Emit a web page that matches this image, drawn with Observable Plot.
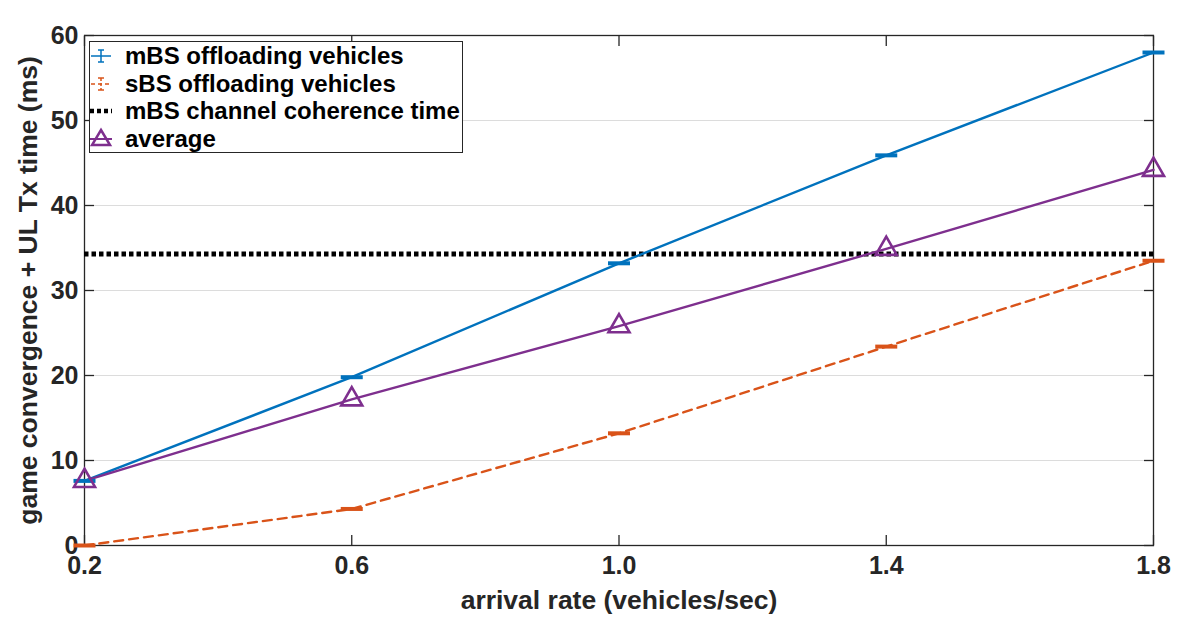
<!DOCTYPE html>
<html>
<head>
<meta charset="utf-8">
<script src="https://cdn.jsdelivr.net/npm/d3@7"></script>
<script src="https://cdn.jsdelivr.net/npm/@observablehq/plot@0.6"></script>
<style>
  html, body { margin: 0; padding: 0; background: #fff; }
  #wrap { position: relative; width: 1197px; height: 640px; font-family: "Liberation Sans", Arial, sans-serif; }
  #legend { position: absolute; left: 89px; top: 41px; width: 374px; height: 112px; border: 1.3px solid #262626; background: #fff; box-sizing: border-box; }
  .entry { position: absolute; left: 0; height: 28px; display: flex; align-items: center; }
  .entry span { position: absolute; left: 35px; font-size: 24px; font-weight: bold; color: #000; white-space: nowrap; line-height: 28px; top: 0; }
</style>
</head>
<body>
<div id="wrap"></div>
<script>
const rates = [0.2, 0.6, 1.0, 1.4, 1.8];
const mbsTime = [7.6, 19.8, 33.2, 45.9, 58.0];
const sbsTime = [0.0, 4.3, 13.2, 23.4, 33.5];
const avgTime = [7.6, 17.2, 25.8, 34.9, 44.2];
const coherenceTime = 34.3;
const xTicks = [0.2, 0.6, 1.0, 1.4, 1.8];
const yTicks = [0, 10, 20, 30, 40, 50, 60];
const seriesNames = ["mBS offloading vehicles", "sBS offloading vehicles", "mBS channel coherence time", "average"];
const colors = {mbs: "#0072BD", sbs: "#D95319", avg: "#7E2F8E"};

const mbsData = rates.map((x, i) => ({x, y: mbsTime[i]}));
const sbsData = rates.map((x, i) => ({x, y: sbsTime[i]}));
const avgData = rates.map((x, i) => ({x, y: avgTime[i]}));

const capSymbol = {
  draw(ctx, size) { ctx.moveTo(-11, 0); ctx.lineTo(11, 0); }
};

const fontFam = '"Liberation Sans", Arial, sans-serif';
const noText = () => "";

const chart = Plot.plot({
  width: 1197,
  height: 640,
  marginLeft: 84,
  marginRight: 44,
  marginTop: 35,
  marginBottom: 95,
  style: {fontFamily: fontFam, fontSize: "25px", fontWeight: "bold", color: "#262626", background: "#fff"},
  x: {domain: [0.2, 1.8]},
  y: {domain: [0, 60]},
  marks: [
    Plot.gridY(yTicks.slice(1, -1), {stroke: "#dcdcdc", strokeOpacity: 1, strokeWidth: 1}),
    Plot.frame({stroke: "#262626", strokeWidth: 1.3}),
    Plot.axisX(xTicks, {anchor: "bottom", tickSize: -10, tickPadding: 21, tickFormat: d3.format(".1f"), stroke: "#262626", strokeWidth: 1.3,
      fontSize: 25, fontWeight: "bold", label: null}),
    Plot.axisX({anchor: "bottom", label: "arrival rate (vehicles/sec)", labelAnchor: "center", labelArrow: "none", labelOffset: 63,
      ticks: [], fontSize: 26.5, fontWeight: "bold"}),
    Plot.axisX(xTicks, {anchor: "top", tickSize: -10, tickFormat: noText, label: null, stroke: "#262626", strokeWidth: 1.3}),
    Plot.axisY(yTicks, {anchor: "left", tickSize: -10, tickPadding: 16, stroke: "#262626", strokeWidth: 1.3,
      fontSize: 25, fontWeight: "bold", label: null}),
    Plot.axisY({anchor: "left", label: "game convergence + UL Tx time (ms)", labelAnchor: "center", labelArrow: "none", labelOffset: 66,
      ticks: [], fontSize: 26.5, fontWeight: "bold"}),
    Plot.axisY(yTicks, {anchor: "right", tickSize: -10, tickFormat: noText, label: null, stroke: "#262626", strokeWidth: 1.3}),
    Plot.ruleY([coherenceTime], {stroke: "#000", strokeWidth: 5, strokeDasharray: "4.5,3"}),
    Plot.line(sbsData, {x: "x", y: "y", stroke: colors.sbs, strokeWidth: 2.4, strokeDasharray: "9,6"}),
    Plot.line(mbsData, {x: "x", y: "y", stroke: colors.mbs, strokeWidth: 2.4}),
    Plot.line(avgData, {x: "x", y: "y", stroke: colors.avg, strokeWidth: 2.4}),
    Plot.dot(mbsData, {x: "x", y: "y", symbol: capSymbol, r: 5, stroke: colors.mbs, strokeWidth: 4, fill: "none"}),
    Plot.dot(sbsData, {x: "x", y: "y", symbol: capSymbol, r: 5, stroke: colors.sbs, strokeWidth: 4, fill: "none"}),
    Plot.dot(avgData, {x: "x", y: "y", symbol: "triangle", r: 7.8, stroke: colors.avg, strokeWidth: 2.6, fill: "none"})
  ]
});

const wrap = document.getElementById("wrap");
wrap.appendChild(chart);

const legend = document.createElement("div");
legend.id = "legend";
const swatches = [
  `<svg width="34" height="28"><line x1="1" y1="14" x2="21" y2="14" stroke="${colors.mbs}" stroke-width="1.5"/><line x1="11" y1="8" x2="11" y2="20" stroke="${colors.mbs}" stroke-width="1.5"/><line x1="8" y1="8" x2="14" y2="8" stroke="${colors.mbs}" stroke-width="1.5"/><line x1="8" y1="20" x2="14" y2="20" stroke="${colors.mbs}" stroke-width="1.5"/></svg>`,
  `<svg width="34" height="28"><line x1="1" y1="14" x2="21" y2="14" stroke="${colors.sbs}" stroke-width="1.5" stroke-dasharray="4,3"/><line x1="11" y1="8" x2="11" y2="20" stroke="${colors.sbs}" stroke-width="1.5" stroke-dasharray="3,2"/><line x1="8" y1="8" x2="14" y2="8" stroke="${colors.sbs}" stroke-width="1.5"/><line x1="8" y1="20" x2="14" y2="20" stroke="${colors.sbs}" stroke-width="1.5"/></svg>`,
  `<svg width="34" height="28"><line x1="0" y1="14" x2="22" y2="14" stroke="#000" stroke-width="4.5" stroke-dasharray="4,3"/></svg>`,
  `<svg width="34" height="28"><path d="M11,5 L20,20 L2,20 Z" fill="none" stroke="${colors.avg}" stroke-width="2.5"/><line x1="0" y1="14" x2="22" y2="14" stroke="${colors.avg}" stroke-width="2"/></svg>`
];
seriesNames.forEach((name, i) => {
  const e = document.createElement("div");
  e.className = "entry";
  e.style.top = (0 + i * 27.5) + "px";
  e.innerHTML = swatches[i] + `<span>${name}</span>`;
  legend.appendChild(e);
});
wrap.appendChild(legend);
</script>
</body>
</html>
